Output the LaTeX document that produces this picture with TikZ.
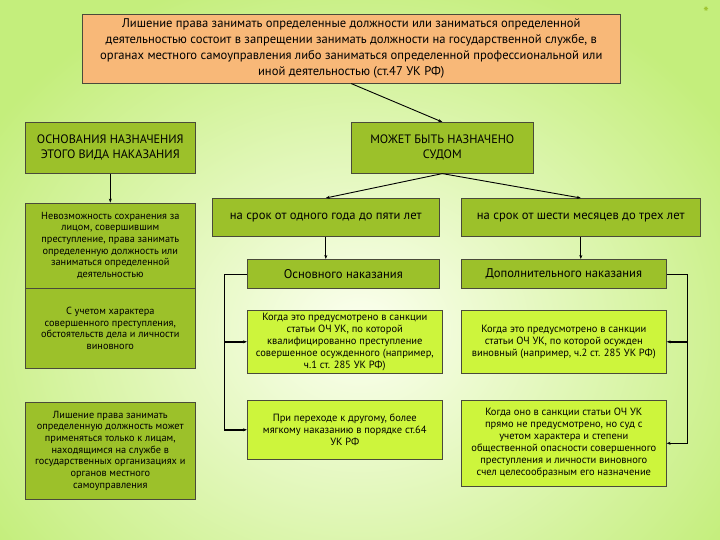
\documentclass[tikz,border=0pt]{standalone}
\usepackage{fontspec}
\setmainfont{PT Sans}
\usetikzlibrary{positioning, arrows.meta}
\definecolor{bgInner}{HTML}{FCFFF0}
\definecolor{bgOuter}{HTML}{C4EE7C}
\definecolor{oliveBox}{HTML}{9CC12A}
\definecolor{limeBox}{HTML}{CDF53C}
\definecolor{peachBox}{HTML}{F8B878}
\definecolor{frameGray}{HTML}{4A4A3A}

\begin{document}
\begin{tikzpicture}[x=1pt, y=-1pt,
  box/.style={rectangle, draw=frameGray, line width=0.6pt, align=center,
              inner sep=2pt, anchor=north west},
  darkbox/.style={box, fill=oliveBox},
  lightbox/.style={box, fill=limeBox, font=\fontsize{10.5}{12}\selectfont},
  arrow/.style={-{Stealth[length=4pt, width=3pt]}, line width=0.9pt, draw=black},
  bus/.style={line width=0.6pt, draw=black},
  branch/.style={-{Stealth[length=4pt, width=3pt]}, line width=1.6pt, draw=black}
]
\useasboundingbox (0,0) rectangle (720,540);
\shade[inner color=bgInner, outer color=bgOuter] (-80,-40) rectangle (800,700);
\node[text=oliveBox, font=\Large\bfseries] (star) at (706,12) {*};

% top definition
\node[box, fill=peachBox, minimum width=538pt, minimum height=69pt,
      font=\fontsize{12.6}{16}\selectfont] (def) at (82,14)
  {Лишение права занимать определенные должности или заниматься определенной\\
   деятельностью состоит в запрещении занимать должности на государственной службе, в\\
   органах местного самоуправления либо заниматься определенной профессиональной или\\
   иной деятельностью (ст.47 УК РФ)};

% left column
\node[darkbox, minimum width=170pt, minimum height=51pt,
      font=\fontsize{12.2}{15}\selectfont] (base) at (25,122)
  {ОСНОВАНИЯ НАЗНАЧЕНИЯ\\ЭТОГО ВИДА НАКАЗАНИЯ};
\node[darkbox, minimum width=170pt, minimum height=85pt,
      font=\fontsize{10.3}{11.7}\selectfont, below=29pt of base] (ground1)
  {Невозможность сохранения за\\ лицом, совершившим\\ преступление, права занимать\\
   определенную должность или\\ заниматься определенной\\ деятельностью};
\node[darkbox, minimum width=170pt, minimum height=80pt,
      font=\fontsize{10.3}{11.7}\selectfont, below=0pt of ground1] (ground2)
  {С учетом характера\\ совершенного преступления,\\ обстоятельств дела и личности\\ виновного};
\node[darkbox, minimum width=170pt, minimum height=97pt,
      font=\fontsize{10.3}{11.7}\selectfont, below=33pt of ground2] (ground3)
  {Лишение права занимать\\ определенную должность может\\ применяться только к лицам,\\
   находящимся на службе в\\ государственных организациях и\\ органов местного\\ самоуправления};

% right part
\node[darkbox, minimum width=182pt, minimum height=51pt,
      font=\fontsize{12.2}{15}\selectfont] (court) at (351,122)
  {МОЖЕТ БЫТЬ НАЗНАЧЕНО\\ СУДОМ};
\node[darkbox, minimum width=227pt, minimum height=38pt,
      font=\fontsize{12.6}{14}\selectfont] (term1) at (212,198)
  {на срок от одного года до пяти лет};
\node[darkbox, minimum width=239pt, minimum height=38pt,
      font=\fontsize{12.6}{14}\selectfont] (term2) at (461,198)
  {на срок от шести месяцев до трех лет};
\node[darkbox, minimum width=192pt, minimum height=29pt,
      font=\fontsize{12.6}{14}\selectfont] (mainpen) at (247,259)
  {Основного наказания};
\node[darkbox, minimum width=205pt, minimum height=29pt,
      font=\fontsize{12.6}{14}\selectfont] (extrapen) at (461,259)
  {Дополнительного наказания};

\node[lightbox, minimum width=195pt, minimum height=63pt] (case1) at (247,310)
  {Когда это предусмотрено в санкции\\ статьи ОЧ УК, по которой\\
   квалифицированно преступление\\ совершенное осужденного (например,\\ ч.1 ст. 285 УК РФ)};
\node[lightbox, minimum width=205pt, minimum height=63pt] (case2) at (461,310)
  {Когда это предусмотрено в санкции\\ статьи ОЧ УК, по которой осужден\\
   виновный (например, ч.2 ст. 285 УК РФ)};
\node[lightbox, minimum width=195pt, minimum height=59pt] (case3) at (247,400)
  {При переходе к другому, более\\ мягкому наказанию в порядке ст.64\\ УК РФ};
\node[lightbox, minimum width=205pt, minimum height=86pt] (case4) at (461,400)
  {Когда оно в санкции статьи ОЧ УК\\ прямо не предусмотрено, но суд с\\
   учетом характера и степени\\ общественной опасности совершенного\\
   преступления и личности виновного\\ счел целесообразным его назначение};

% connectors
\draw[arrow] (def.south) -- (court.north);
\draw[arrow] (base.south) -- (ground1.north);
\draw[arrow] (court.south) -- (term1.north);
\draw[arrow] (court.south) -- (term2.north);
\draw[arrow] (term1.south) -- (term1.south |- mainpen.north);
\draw[arrow] (term2.south) -- (term2.south |- extrapen.north);

\coordinate[left=23pt of mainpen.west] (lbus);
\coordinate[right=21pt of extrapen.east] (rbus);
\draw[bus] (mainpen.west) -- (lbus) -- (lbus |- case3.west);
\draw[branch] (lbus |- case1.west) -- (case1.west);
\draw[branch] (lbus |- case3.west) -- (case3.west);
\draw[bus] (extrapen.east) -- (rbus) -- (rbus |- case4.east);
\draw[branch] (rbus |- case2.east) -- (case2.east);
\draw[arrow] (rbus |- case4.east) -- (case4.east);
\end{tikzpicture}
\end{document}
